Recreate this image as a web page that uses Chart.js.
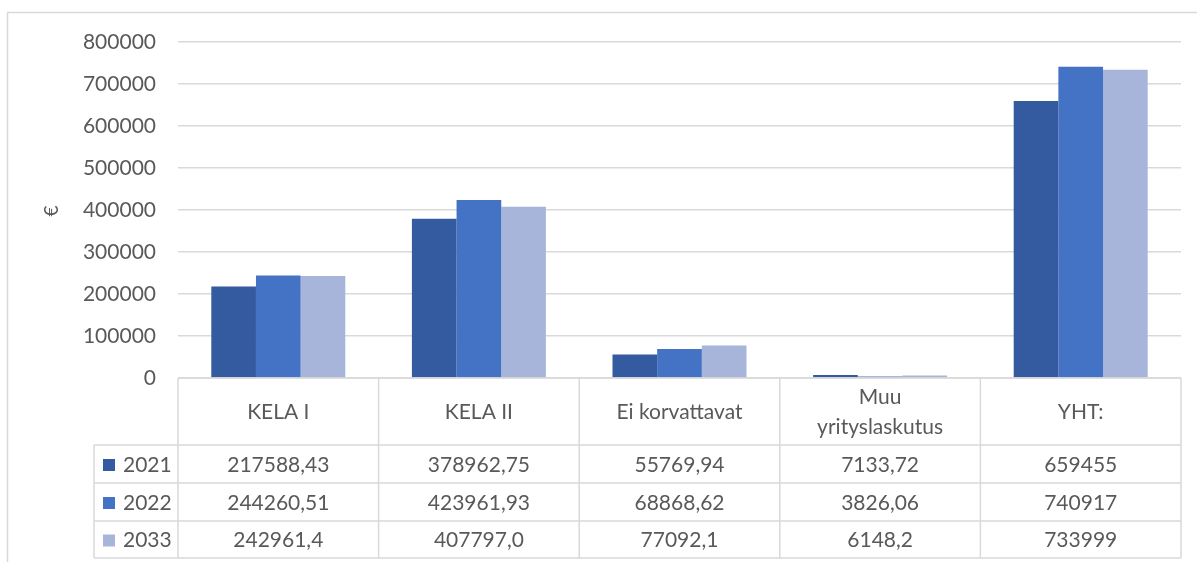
<!DOCTYPE html>
<html>
<head>
<meta charset="utf-8">
<script src="https://cdn.jsdelivr.net/npm/chart.js@4/dist/chart.umd.min.js"></script>
<style>
  body { margin: 0; background: #fff; }
  #wrap { position: relative; width: 1197px; height: 562px; }
</style>
</head>
<body>
<div id="wrap"><canvas id="chart"></canvas></div>
<script>
// Categories (two-line label for "Muu yrityslaskutus")
const categories = [['KELA I'], ['KELA II'], ['Ei korvattavat'], ['Muu', 'yrityslaskutus'], ['YHT:']];
const years = ['2021', '2022', '2033'];

// Values as shown in the data table
const text2021 = ['217588,43', '378962,75', '55769,94', '7133,72', '659455'];
const text2022 = ['244260,51', '423961,93', '68868,62', '3826,06', '740917'];
const text2033 = ['242961,4', '407797,0', '77092,1', '6148,2', '733999'];

const yTicks = [0, 100000, 200000, 300000, 400000, 500000, 600000, 700000, 800000];
const colors = ['#345A9F', '#4472C4', '#A7B5DA'];

const toNum = s => parseFloat(s.replace(',', '.'));
const tableTexts = [text2021, text2022, text2033];

const TEXT = '#595959';
const LINE = '#d9d9d9';
const FONT = 'Lato, "Liberation Sans", sans-serif';

// Table layout below the plot
const headerBottom = 445;
const rowBottoms = [483, 521, 558];
const legendLeft = 94;

const tablePlugin = {
  id: 'dataTable',
  beforeDraw(chart) {
    const ctx = chart.ctx;
    ctx.save();
    ctx.strokeStyle = LINE;
    ctx.lineWidth = 1.5;
    ctx.strokeRect(7.5, 12.5, 1400, 800);
    ctx.restore();
  },
  afterDraw(chart) {
    const ctx = chart.ctx;
    const area = chart.chartArea;
    const n = categories.length;
    const w = (area.right - area.left) / n;
    const top = area.bottom;
    const bottom = rowBottoms[rowBottoms.length - 1];

    ctx.save();
    ctx.strokeStyle = LINE;
    ctx.lineWidth = 1.5;
    ctx.beginPath();
    // horizontal lines
    ctx.moveTo(area.left, top); ctx.lineTo(area.right, top);
    [headerBottom].concat(rowBottoms).forEach(y => {
      ctx.moveTo(legendLeft, y); ctx.lineTo(area.right, y);
    });
    // vertical lines
    for (let i = 0; i <= n; i++) {
      const x = area.left + i * w;
      ctx.moveTo(x, top); ctx.lineTo(x, bottom);
    }
    ctx.moveTo(legendLeft, headerBottom); ctx.lineTo(legendLeft, bottom);
    ctx.stroke();

    // header labels
    ctx.fillStyle = TEXT;
    ctx.font = '21px ' + FONT;
    ctx.textAlign = 'center';
    ctx.textBaseline = 'middle';
    const xs = chart.scales.x;
    categories.forEach((lines, i) => {
      const cx = xs.getPixelForValue(i);
      const cy = (top + headerBottom) / 2 + 1;
      const lh = 30;
      lines.forEach((t, j) => {
        ctx.fillText(t, cx, cy + (j - (lines.length - 1) / 2) * lh);
      });
    });

    // rows
    let prev = headerBottom;
    rowBottoms.forEach((yb, r) => {
      const cy = (prev + yb) / 2 + 1;
      ctx.fillStyle = colors[r];
      ctx.fillRect(103, cy - 6, 12, 12);
      ctx.fillStyle = TEXT;
      ctx.textAlign = 'left';
      ctx.fillText(years[r], 123, cy);
      ctx.textAlign = 'center';
      tableTexts[r].forEach((t, i) => {
        ctx.fillText(t, xs.getPixelForValue(i), cy);
      });
      prev = yb;
    });

    // axis title
    ctx.translate(52, 211);
    ctx.rotate(-Math.PI / 2);
    ctx.font = '19px ' + FONT;
    ctx.textAlign = 'center';
    ctx.fillText('€', 0, 0);
    ctx.restore();
  }
};

new Chart(document.getElementById('chart'), {
  type: 'bar',
  data: {
    labels: categories.map(c => c.join(' ')),
    datasets: years.map((y, i) => ({
      label: y,
      data: tableTexts[i].map(toNum),
      backgroundColor: colors[i],
      borderWidth: 0,
      barPercentage: 1,
      categoryPercentage: 0.668
    }))
  },
  options: {
    responsive: true,
    maintainAspectRatio: false,
    animation: false,
    layout: { padding: { left: 0, top: 42, right: 16, bottom: 176 } },
    plugins: { legend: { display: false }, tooltip: { enabled: false } },
    scales: {
      x: {
        grid: { display: false },
        border: { display: false },
        ticks: { display: false }
      },
      y: {
        min: 0,
        max: 800000,
        afterBuildTicks: s => { s.ticks = yTicks.map(v => ({ value: v })); },
        afterFit: s => { s.width = 178; },
        grid: { color: LINE, lineWidth: 1.5, drawTicks: false },
        border: { display: false },
        ticks: { color: TEXT, font: { family: FONT, size: 21 }, padding: 22, callback: v => String(v) }
      }
    }
  },
  plugins: [tablePlugin]
});
</script>
</body>
</html>
